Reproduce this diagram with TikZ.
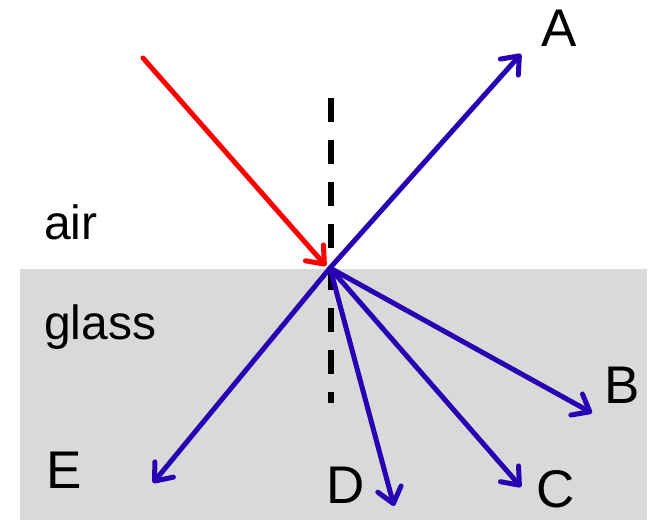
\documentclass[tikz,border=0pt]{standalone}
\usepackage{fontspec}
\setmainfont{Liberation Sans}
\usetikzlibrary{arrows.meta}
\definecolor{rayblue}{RGB}{40,0,180}
\definecolor{rayred}{RGB}{255,0,0}
\definecolor{glassgray}{RGB}{217,217,217}
\tikzset{
  ray/.style={line width=5bp, line cap=round, line join=round,
    -{Straight Barb[length=15bp,width=24bp,line cap=round,line join=round]}},
  bigl/.style={anchor=base west, inner sep=0pt, font=\fontsize{53bp}{60bp}\selectfont},
  medl/.style={anchor=base west, inner sep=0pt, font=\fontsize{48bp}{54bp}\selectfont},
}
\begin{document}
\begin{tikzpicture}[x=1bp,y=-1bp]
\useasboundingbox (0,0) rectangle (648,520);
\fill[glassgray] (20,269) rectangle (647,520);
\coordinate (O) at (330,268);
\coordinate (S) at (143,58);
\coordinate (Ri) at (326,266);
\coordinate (N1) at (330.5,98);
\coordinate (N2) at (330.5,403);
\coordinate (TA) at (521,54);
\coordinate (TB) at (592,413);
\coordinate (TC) at (521,487);
\coordinate (TD) at (394,506);
\coordinate (TE) at (153,483);
\draw[line width=6bp, dash pattern=on 24bp off 18bp] (N1) -- (N2);
\draw[ray, rayred] (S) -- (Ri);
\draw[ray, rayblue] (O) -- (TA);
\draw[ray, rayblue] (O) -- (TB);
\draw[ray, rayblue] (O) -- (TC);
\draw[ray, rayblue] (O) -- (TD);
\draw[ray, rayblue] (O) -- (TE);
\node[bigl] (lA) at (541,47) {A};
\node[bigl] (lB) at (604,403) {B};
\node[bigl] (lC) at (536,507) {C};
\node[bigl] (lD) at (326,503) {D};
\node[bigl] (lE) at (46,488) {E};
\node[medl] (lair) at (44,240) {air};
\node[medl] (lglass) at (44,339) {glass};
\end{tikzpicture}
\end{document}
